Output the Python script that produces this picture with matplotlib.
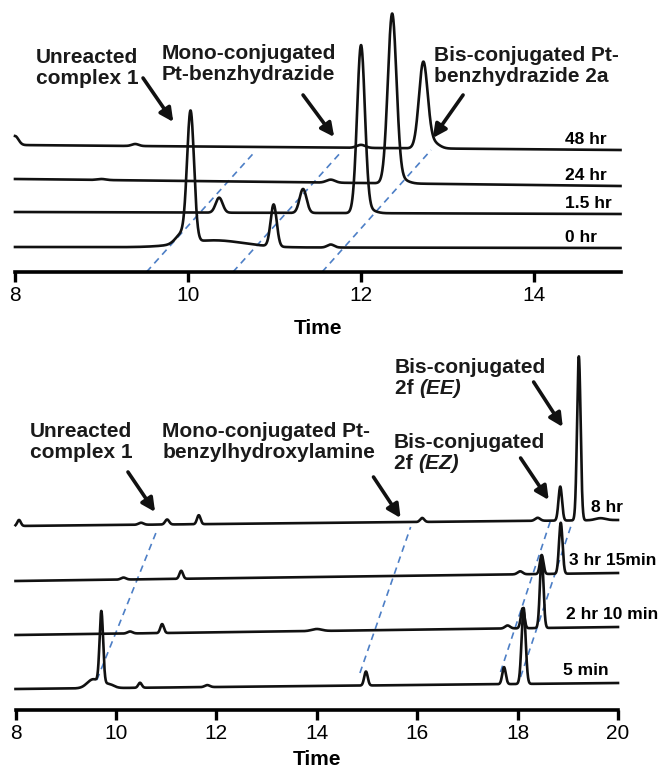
import numpy as np
import matplotlib
matplotlib.use('Agg')
import matplotlib.pyplot as plt

plt.rcParams['font.family'] = ['Liberation Sans', 'DejaVu Sans']

# ---- top panel: Pt-benzhydrazide, four time points ----
top_labels = ['48 hr', '24 hr', '1.5 hr', '0 hr']
# baseline level (signal units) at t=8 and t=15
top_base_start = [127, 93, 60, 25]
top_base_end = [122, 86, 58, 24]
# peaks: (retention time, height, width)
top_peaks_48 = [(8.0, 9, 0.04), (9.39, 2, 0.04), (12.0, 3, 0.05),
                (12.72, 85, 0.05), (12.83, 6, 0.07)]
top_peaks_24 = [(9.0, 1, 0.05), (11.65, 3, 0.05), (12.36, 168, 0.05),
                (12.46, 4, 0.08)]
top_peaks_15 = [(10.36, 15, 0.04), (11.33, 24, 0.04), (12.0, 167, 0.045),
                (12.1, 3, 0.07)]
top_peaks_0 = [(9.93, 10, 0.07), (10.3, 7, 0.35), (10.03, 128, 0.04),
               (10.99, 42, 0.035), (11.65, 3, 0.04)]
top_peaks = [top_peaks_48, top_peaks_24, top_peaks_15, top_peaks_0]
# guide lines through the same species (time, signal)
top_guides = [[(9.52, 0), (10.77, 120)],
              [(10.52, 0), (11.77, 120)],
              [(11.55, 0), (12.81, 122)]]
top_notes = ['Unreacted\ncomplex 1', 'Mono-conjugated\nPt-benzhydrazide',
             'Bis-conjugated Pt-\nbenzhydrazide 2a']
top_note_xy = [(8.24, 204), (9.70, 208), (12.84, 206)]
top_arrows = [((9.48, 194), (9.83, 150)),
              ((11.33, 177), (11.69, 135)),
              ((13.18, 177), (12.83, 134))]

# ---- bottom panel: Pt-benzylhydroxylamine ----
bot_labels = ['8 hr', '3 hr 15min', '2 hr 10 min', '5 min']
bot_base_start = [184, 129, 75, 21]
bot_base_end = [190, 137, 83, 27]
bot_peaks_8h = [(8.07, 6, 0.035), (10.5, 2, 0.05), (11.02, 5, 0.04),
                (11.65, 9, 0.035), (16.1, 4, 0.04), (18.4, 3, 0.05),
                (18.85, 34, 0.035), (19.22, 164, 0.035), (19.65, 2, 0.1)]
bot_peaks_3h = [(10.15, 2, 0.05), (11.3, 8, 0.035), (18.05, 3, 0.05),
                (18.48, 19, 0.035), (18.86, 51, 0.035)]
bot_peaks_2h = [(10.28, 2, 0.05), (10.92, 9, 0.035), (14.0, 2, 0.1),
                (17.8, 3, 0.05), (18.1, 20, 0.035), (18.48, 72, 0.035)]
bot_peaks_5m = [(9.55, 9, 0.12), (9.71, 72, 0.035), (9.85, 4, 0.1),
                (10.48, 5, 0.035), (11.82, 2, 0.05), (14.98, 14, 0.035),
                (17.73, 17, 0.035), (18.12, 76, 0.04)]
bot_peaks = [bot_peaks_8h, bot_peaks_3h, bot_peaks_2h, bot_peaks_5m]
bot_guides = [[(9.62, 30), (10.82, 180)],
              [(14.86, 37), (15.87, 183)],
              [(17.66, 38), (18.66, 190)],
              [(18.06, 33), (19.09, 188)]]
bot_notes = ['Unreacted\ncomplex 1', 'Mono-conjugated Pt-\nbenzylhydroxylamine']
bot_note_xy = [(8.29, 268), (10.92, 268)]
bot_iso_notes = ['(EZ)', '(EE)']
bot_iso_xy = [(15.53, 257), (15.55, 332)]
bot_arrows = [((10.24, 238), (10.78, 198)),
              ((15.13, 233), (15.67, 192)),
              ((18.06, 252), (18.62, 210)),
              ((18.32, 328), (18.90, 283))]

W, H = 662, 768
fig = plt.figure(figsize=(W / 100, H / 100), dpi=100)


def trace(t, start, end, peaks):
    y = start + (end - start) * (t - t[0]) / (t[-1] - t[0])
    for rt, h, w in peaks:
        y = y + h * np.exp(-0.5 * ((t - rt) / w) ** 2)
    return y


def setup(ax, xmin, xmax, ticks, labelpad):
    ax.set_xlim(xmin, xmax)
    for s in ['left', 'right', 'top']:
        ax.spines[s].set_visible(False)
    ax.spines['bottom'].set_linewidth(2.6)
    ax.set_yticks([])
    ax.set_xticks(ticks)
    ax.tick_params(axis='x', direction='out', length=7, width=2.4,
                   labelsize=15, pad=3)
    ax.set_xlabel('Time', fontsize=15, fontweight='bold', labelpad=labelpad)
    ax.patch.set_visible(False)


def arrow(ax, a, b):
    ax.annotate('', xy=b, xytext=a,
                arrowprops=dict(arrowstyle='-|>', lw=2.6, color='#111111',
                                mutation_scale=20, shrinkA=0, shrinkB=0))


blue = '#4d7fc6'
txt = dict(fontsize=15, fontweight='bold', color='#1a1a1a')

# top axes: x from px 15 to 620.5, axis line at px 272
ax1 = fig.add_axes([15 / W, 1 - 272 / H, 605.5 / W, 272 / H])
setup(ax1, 8, 15, [8, 10, 12, 14], 10)
ax1.set_ylim(0, 272)
t = np.linspace(8, 15, 3000)
for lab, s, e, pk in zip(top_labels, top_base_start, top_base_end, top_peaks):
    ax1.plot(t, trace(t, s, e, pk), color='#111111', lw=1.9, clip_on=False)
    ax1.text(14.36, e + 6, lab, fontsize=12.5, fontweight='bold',
             ha='left', va='baseline')
for g in top_guides:
    ax1.plot([g[0][0], g[1][0]], [g[0][1], g[1][1]], color=blue, lw=1.2,
             dashes=(4, 3), zorder=1)
for note, xy in zip(top_notes, top_note_xy):
    ax1.text(xy[0], xy[1], note, ha='left', va='center', linespacing=1.15, **txt)
for a, b in top_arrows:
    arrow(ax1, a, b)

# bottom axes: x from px 15.5 to 618, axis line at px 710
ax2 = fig.add_axes([15.5 / W, 1 - 710 / H, 602.5 / W, 380 / H])
setup(ax2, 8, 20, [8, 10, 12, 14, 16, 18, 20], 5)
ax2.set_ylim(0, 380)
t2 = np.linspace(8, 20, 5000)
bot_label_x = [19.46, 19.03, 18.97, 18.90]
for lab, lx, s, e, pk in zip(bot_labels, bot_label_x, bot_base_start,
                             bot_base_end, bot_peaks):
    ax2.plot(t2, trace(t2, s, e, pk), color='#111111', lw=1.9, clip_on=False)
    ax2.text(lx, e + 8, lab, fontsize=12.5, fontweight='bold',
             ha='left', va='baseline')
for g in bot_guides:
    ax2.plot([g[0][0], g[1][0]], [g[0][1], g[1][1]], color=blue, lw=1.2,
             dashes=(4, 3), zorder=1)
for note, xy in zip(bot_notes, bot_note_xy):
    ax2.text(xy[0], xy[1], note, ha='left', va='center', linespacing=1.15, **txt)
for iso, xy in zip(bot_iso_notes, bot_iso_xy):
    ax2.text(xy[0], xy[1] + 1, 'Bis-conjugated', ha='left', va='bottom', **txt)
    t_2f = ax2.text(xy[0], xy[1] - 1, '2f ', ha='left', va='top', **txt)
    ax2.annotate(iso, xy=(1, 0), xycoords=t_2f, ha='left', va='bottom',
                 style='italic', **txt)
for a, b in bot_arrows:
    arrow(ax2, a, b)

fig.savefig('out.png', dpi=100)
